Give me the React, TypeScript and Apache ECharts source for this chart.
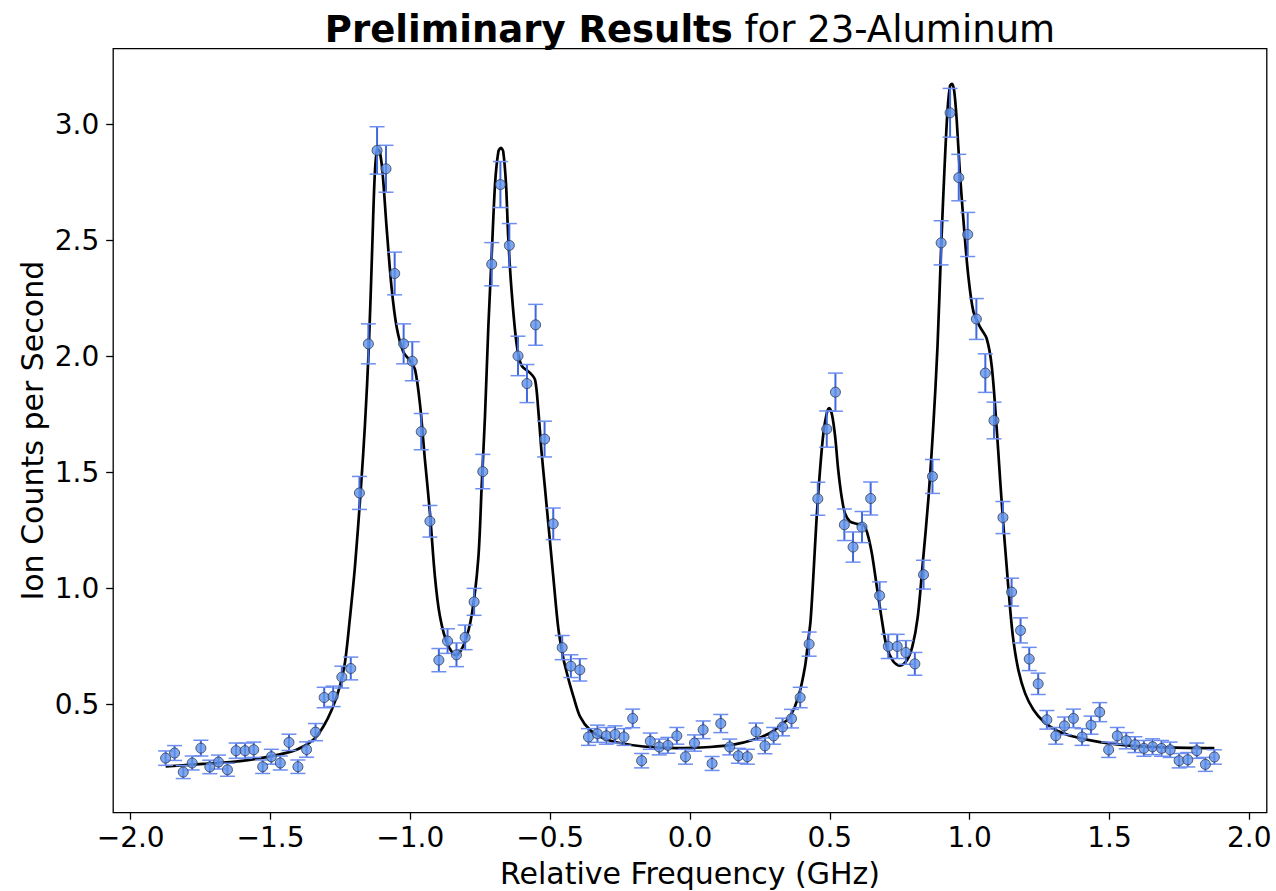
import React, { useEffect, useRef } from "react";
import * as echarts from "echarts";

// Measured scan points
const freq = [
  -1.875, -1.843, -1.812, -1.78, -1.749, -1.717, -1.686, -1.654, -1.623, -1.591,
  -1.56, -1.528, -1.497, -1.465, -1.434, -1.402, -1.371, -1.339, -1.308, -1.276,
  -1.245, -1.213, -1.182, -1.15, -1.119, -1.087, -1.056, -1.024, -0.993, -0.961,
  -0.93, -0.898, -0.867, -0.835, -0.804, -0.772, -0.741, -0.709, -0.678, -0.646,
  -0.615, -0.583, -0.552, -0.52, -0.489, -0.457, -0.426, -0.394, -0.363, -0.331,
  -0.299, -0.268, -0.236, -0.205, -0.173, -0.142, -0.11, -0.079, -0.047, -0.016,
  0.016, 0.047, 0.079, 0.11, 0.142, 0.173, 0.205, 0.236, 0.268, 0.299,
  0.331, 0.363, 0.394, 0.426, 0.457, 0.489, 0.52, 0.552, 0.583, 0.615,
  0.646, 0.678, 0.709, 0.741, 0.772, 0.804, 0.835, 0.867, 0.898, 0.93,
  0.961, 0.993, 1.024, 1.056, 1.087, 1.119, 1.15, 1.182, 1.213, 1.245,
  1.276, 1.308, 1.339, 1.371, 1.402, 1.434, 1.465, 1.497, 1.528, 1.56,
  1.591, 1.623, 1.654, 1.686, 1.717, 1.749, 1.78, 1.812, 1.843, 1.875,
];
const counts = [
  0.27, 0.292, 0.21, 0.249, 0.313, 0.232, 0.253, 0.22, 0.302, 0.302,
  0.306, 0.233, 0.276, 0.249, 0.338, 0.233, 0.307, 0.382, 0.531, 0.536,
  0.619, 0.656, 1.412, 2.054, 2.887, 2.808, 2.357, 2.054, 1.979, 1.676,
  1.29, 0.692, 0.774, 0.715, 0.79, 0.943, 1.504, 2.397, 2.74, 2.478,
  2.002, 1.883, 2.136, 1.644, 1.279, 0.746, 0.666, 0.65, 0.361, 0.375,
  0.366, 0.372, 0.361, 0.441, 0.259, 0.343, 0.318, 0.325, 0.366, 0.276,
  0.335, 0.392, 0.247, 0.419, 0.318, 0.28, 0.276, 0.384, 0.323, 0.366,
  0.404, 0.44, 0.531, 0.761, 1.387, 1.687, 1.846, 1.275, 1.179, 1.265,
  1.388, 0.97, 0.751, 0.751, 0.725, 0.676, 1.06, 1.483, 2.489, 3.049,
  2.77, 2.525, 2.161, 1.928, 1.724, 1.306, 0.985, 0.82, 0.697, 0.59,
  0.435, 0.366, 0.409, 0.441, 0.361, 0.412, 0.468, 0.306, 0.366, 0.345,
  0.328, 0.312, 0.319, 0.312, 0.306, 0.259, 0.263, 0.302, 0.243, 0.275,
];
const countErr = [
  0.031, 0.032, 0.028, 0.03, 0.034, 0.029, 0.03, 0.028, 0.033, 0.033,
  0.033, 0.029, 0.032, 0.03, 0.035, 0.029, 0.033, 0.037, 0.044, 0.044,
  0.047, 0.049, 0.071, 0.086, 0.102, 0.101, 0.092, 0.086, 0.084, 0.078,
  0.068, 0.05, 0.053, 0.051, 0.053, 0.058, 0.074, 0.093, 0.099, 0.094,
  0.085, 0.082, 0.088, 0.077, 0.068, 0.052, 0.049, 0.048, 0.036, 0.037,
  0.036, 0.037, 0.036, 0.04, 0.031, 0.035, 0.034, 0.034, 0.036, 0.032,
  0.035, 0.038, 0.03, 0.039, 0.034, 0.032, 0.032, 0.037, 0.034, 0.036,
  0.038, 0.04, 0.044, 0.052, 0.071, 0.078, 0.082, 0.068, 0.065, 0.067,
  0.071, 0.059, 0.052, 0.052, 0.051, 0.049, 0.062, 0.073, 0.095, 0.105,
  0.1, 0.095, 0.088, 0.083, 0.079, 0.069, 0.06, 0.054, 0.05, 0.046,
  0.04, 0.036, 0.038, 0.04, 0.036, 0.039, 0.041, 0.033, 0.036, 0.035,
  0.034, 0.034, 0.034, 0.034, 0.033, 0.031, 0.031, 0.033, 0.03, 0.031,
];

// Fitted curve
const fitFreq = [
  -1.875, -1.728, -1.609, -1.49, -1.407, -1.347, -1.311, -1.281, -1.252, -1.234,
  -1.218, -1.198, -1.178, -1.162, -1.148, -1.136, -1.127, -1.118, -1.109, -1.099,
  -1.085, -1.067, -1.049, -1.025, -1.001, -0.983, -0.965, -0.948, -0.93, -0.912,
  -0.894, -0.867, -0.837, -0.808, -0.78, -0.757, -0.745, -0.733, -0.721, -0.709,
  -0.697, -0.685, -0.676, -0.668, -0.658, -0.65, -0.638, -0.62, -0.602, -0.572,
  -0.554, -0.543, -0.531, -0.519, -0.507, -0.489, -0.471, -0.453, -0.441, -0.429,
  -0.417, -0.393, -0.358, -0.31, -0.25, -0.167, -0.048, 0.072, 0.155, 0.227,
  0.286, 0.334, 0.358, 0.388, 0.411, 0.423, 0.431, 0.441, 0.453, 0.465,
  0.477, 0.489, 0.498, 0.508, 0.519, 0.53, 0.542, 0.554, 0.572, 0.596,
  0.62, 0.634, 0.65, 0.668, 0.686, 0.703, 0.727, 0.751, 0.775, 0.795,
  0.814, 0.832, 0.853, 0.87, 0.885, 0.898, 0.91, 0.921, 0.93, 0.937,
  0.945, 0.954, 0.965, 0.98, 0.995, 1.013, 1.037, 1.061, 1.079, 1.096,
  1.109, 1.12, 1.132, 1.144, 1.156, 1.174, 1.198, 1.228, 1.264, 1.311,
  1.371, 1.466, 1.586, 1.705, 1.875,
];
const fitCounts = [
  0.234, 0.246, 0.257, 0.28, 0.306, 0.349, 0.406, 0.478, 0.579, 0.68,
  0.85, 1.096, 1.412, 1.711, 2.054, 2.48, 2.787, 2.895, 2.88, 2.787,
  2.557, 2.295, 2.127, 2.019, 1.981, 1.942, 1.788, 1.557, 1.327, 1.051,
  0.88, 0.76, 0.713, 0.76, 0.89, 1.13, 1.438, 1.745, 2.13, 2.437,
  2.744, 2.883, 2.898, 2.883, 2.744, 2.514, 2.283, 2.053, 1.96, 1.929,
  1.899, 1.776, 1.591, 1.438, 1.284, 1.053, 0.83, 0.7, 0.64, 0.585,
  0.536, 0.449, 0.392, 0.356, 0.335, 0.32, 0.313, 0.318, 0.328, 0.349,
  0.378, 0.421, 0.449, 0.536, 0.662, 0.78, 0.86, 1.052, 1.31, 1.511,
  1.669, 1.755, 1.777, 1.748, 1.655, 1.511, 1.397, 1.325, 1.289, 1.279,
  1.275, 1.239, 1.153, 1.009, 0.866, 0.751, 0.686, 0.668, 0.69, 0.75,
  0.875, 1.105, 1.395, 1.701, 2.042, 2.467, 2.808, 3.063, 3.165, 3.174,
  3.14, 3.012, 2.791, 2.552, 2.348, 2.195, 2.127, 2.076, 1.957, 1.701,
  1.468, 1.282, 1.1, 0.923, 0.78, 0.65, 0.55, 0.478, 0.428, 0.389,
  0.363, 0.339, 0.323, 0.316, 0.313,
];

const xTicks = [-2.0, -1.5, -1.0, -0.5, 0.0, 0.5, 1.0, 1.5, 2.0];
const yTicks = [0.5, 1.0, 1.5, 2.0, 2.5, 3.0];

const FONT = "'DejaVu Sans', sans-serif";

export default function App() {
  const ref = useRef<HTMLDivElement>(null);
  useEffect(() => {
    if (!ref.current) return;
    const chart = echarts.init(ref.current, null, { renderer: "svg" });
    const pts = freq.map((f, i) => [f, counts[i]]);
    const bars = freq.map((f, i) => [f, counts[i] - countErr[i], counts[i] + countErr[i]]);
    const fit = fitFreq.map((f, i) => [f, fitCounts[i]]);
    const fmt = (v: number) => (v < 0 ? "\u2212" : "") + Math.abs(v).toFixed(1);
    chart.setOption({
      animation: false,
      backgroundColor: "#ffffff",
      grid: {
        left: 113.2,
        right: 9.2,
        top: 48.7,
        bottom: 78.3,
        show: true,
        borderColor: "#000",
        borderWidth: 1.3,
        backgroundColor: "transparent",
      },
      xAxis: {
        type: "value",
        min: -2.0625,
        max: 2.0625,
        splitLine: { show: false },
        axisLine: { show: false, onZero: false },
        axisTick: {
          show: true,
          inside: false,
          length: 7,
          customValues: xTicks,
          lineStyle: { color: "#000", width: 1.3 },
        },
        axisLabel: {
          customValues: xTicks,
          formatter: fmt,
          margin: 11,
          fontSize: 28,
          fontFamily: FONT,
          color: "#000",
        },
      },
      yAxis: {
        type: "value",
        min: 0.035,
        max: 3.325,
        splitLine: { show: false },
        axisLine: { show: false, onZero: false },
        axisTick: {
          show: true,
          inside: false,
          length: 7,
          customValues: yTicks,
          lineStyle: { color: "#000", width: 1.3 },
        },
        axisLabel: {
          customValues: yTicks,
          formatter: fmt,
          margin: 14,
          fontSize: 28,
          fontFamily: FONT,
          color: "#000",
        },
      },
      graphic: [
        {
          type: "text",
          x: 690,
          y: 29,
          style: {
            text: "{b|Preliminary Results}{n| for 23-Aluminum}",
            rich: {
              b: { fontSize: 37, fontWeight: "bold", fontFamily: FONT, fill: "#000", color: "#000" },
              n: { fontSize: 37, fontWeight: "normal", fontFamily: FONT, fill: "#000", color: "#000" },
            },
            align: "center",
            verticalAlign: "middle",
            textAlign: "center",
            textVerticalAlign: "middle",
          },
        },
        {
          type: "text",
          x: 690,
          y: 873.5,
          style: {
            text: "Relative Frequency (GHz)",
            font: "30px " + FONT,
            fontSize: 30,
            fontFamily: FONT,
            fill: "#000",
            align: "center",
            verticalAlign: "middle",
            textAlign: "center",
            textVerticalAlign: "middle",
          },
        },
        {
          type: "text",
          x: 32.5,
          y: 430.7,
          rotation: Math.PI / 2,
          style: {
            text: "Ion Counts per Second",
            font: "30px " + FONT,
            fontSize: 30,
            fontFamily: FONT,
            fill: "#000",
            align: "center",
            verticalAlign: "middle",
            textAlign: "center",
            textVerticalAlign: "middle",
          },
        },
      ],
      series: [
        {
          type: "line",
          name: "Fit",
          data: fit,
          showSymbol: false,
          smooth: 0.3,
          lineStyle: { color: "#000", width: 2.7 },
          z: 2,
        },
        {
          type: "custom",
          name: "Error",
          data: bars,
          encode: { x: 0, y: [1, 2] },
          z: 3,
          renderItem: (params: any, api: any) => {
            const x = api.value(0);
            const top = api.coord([x, api.value(2)]);
            const bot = api.coord([x, api.value(1)]);
            const cap = 7.5;
            return {
              type: "group",
              children: [
                {
                  type: "line",
                  shape: { x1: top[0], y1: top[1], x2: bot[0], y2: bot[1] },
                  style: { stroke: "#3f68de", lineWidth: 2 },
                },
                {
                  type: "line",
                  shape: { x1: top[0] - cap, y1: top[1], x2: top[0] + cap, y2: top[1] },
                  style: { stroke: "#6d8ef0", lineWidth: 1.5 },
                },
                {
                  type: "line",
                  shape: { x1: bot[0] - cap, y1: bot[1], x2: bot[0] + cap, y2: bot[1] },
                  style: { stroke: "#6d8ef0", lineWidth: 1.5 },
                },
              ],
            };
          },
        },
        {
          type: "scatter",
          name: "Data",
          data: pts,
          symbol: "circle",
          symbolSize: 10,
          itemStyle: { color: "#6092ea", borderColor: "#2f3a50", borderWidth: 1 },
          z: 4,
        },
      ],
    });
    return () => chart.dispose();
  }, []);
  return (
    <div
      ref={ref}
      style={{ position: "fixed", left: 0, top: 0, width: 1276, height: 891, background: "#fff" }}
    />
  );
}
